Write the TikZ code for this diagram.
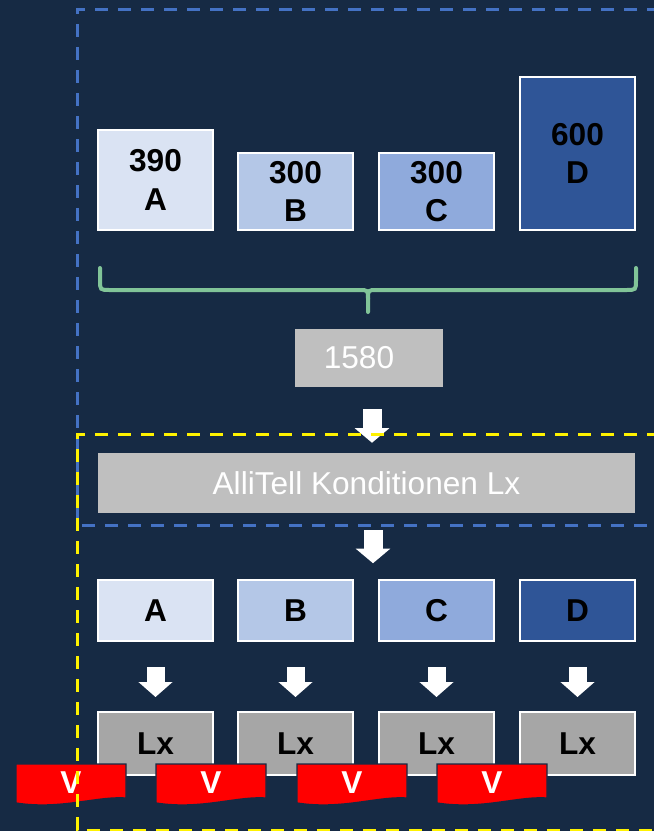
\documentclass[tikz,border=0pt]{standalone}
\usepackage{fontspec}
\setmainfont{Liberation Sans}
\usetikzlibrary{arrows.meta, calc}

\definecolor{navy}{RGB}{22,42,68}
\definecolor{boxA}{RGB}{218,227,243}
\definecolor{boxB}{RGB}{180,199,231}
\definecolor{boxC}{RGB}{143,170,220}
\definecolor{boxD}{RGB}{47,85,151}
\definecolor{sumgrey}{RGB}{191,191,191}
\definecolor{lxgrey}{RGB}{166,166,166}
\definecolor{bracegreen}{RGB}{129,196,152}
\definecolor{dashblue}{RGB}{68,114,196}

\def\px{0.03cm}

\tikzset{
    box/.style={draw=white, line width=0.06cm, inner sep=0pt, align=center,
        minimum width=115*\px, font=\bfseries\fontsize{27}{33}\selectfont},
    greybox/.style={fill=sumgrey, inner sep=0pt, text=white,
        font=\fontsize{27}{33}\selectfont},
    bigarrow/.style={white, line width=0.57cm, -{Triangle[width=1.02cm, length=0.44cm]}},
    smallarrow/.style={white, line width=0.54cm, -{Triangle[width=1.0cm, length=0.45cm]}},
    vlabel/.style={text=white, inner sep=0pt, font=\bfseries\fontsize{27}{33}\selectfont},
    dashline/.style={line width=0.09cm, dash pattern=on 0.39cm off 0.3cm}
}

\begin{document}
\begin{tikzpicture}[x=\px, y=-\px]
    % background
    \fill[navy] (0,0) rectangle (654,831);
    \clip (0,0) rectangle (654,831);

    % top boxes
    \foreach \nm/\x/\h/\co/\val in {
        A/155.5/100/boxA/390,
        B/295.5/77/boxB/300,
        C/436.5/77/boxC/300,
        D/577.5/153/boxD/600}{

        \node[box, fill=\co, minimum height=\h*\px, anchor=south] (t\nm) at (\x,231) {\val\\\nm};
    }

    % brace
    \draw[bracegreen, line width=0.12cm, line cap=round]
        (100,268) -- (100,280) .. controls (100,290) .. (110,290) -- (359,290)
        .. controls (368,290) .. (368,299) -- (368,312);
    \draw[bracegreen, line width=0.12cm, line cap=round]
        (368,299) .. controls (368,290) .. (377,290) -- (626,290)
        .. controls (636,290) .. (636,280) -- (636,268);

    \node[greybox, minimum width=148*\px, minimum height=58*\px] (sum) at (369,358) {1580\hspace*{0.6cm}};
    \node[greybox, minimum width=537*\px, minimum height=60*\px] (allitell) at (366.5,483) {AlliTell Konditionen Lx};

    \draw[bigarrow] ([xshift=3*\px, yshift=-22*\px]sum.south) -- ([xshift=5.5*\px, yshift=10*\px]allitell.north);
    \draw[bigarrow] ([xshift=6.5*\px, yshift=-17*\px]allitell.south) -- ([xshift=6.5*\px, yshift=-50*\px]allitell.south);

    % bottom boxes
    \foreach \nm/\x/\co in {A/155.5/boxA, B/295.5/boxB, C/436.5/boxC, D/577.5/boxD}{
        \node[box, fill=\co, minimum height=61*\px] (b\nm) at (\x,610.5) {\nm};
        \node[box, fill=lxgrey, minimum height=63*\px] (l\nm) at (\x,743.5) {Lx};
        \draw[smallarrow] ([yshift=-25*\px]b\nm.south) -- ([yshift=14*\px]l\nm.north);
    }

    % red flags
    \foreach \nm/\x in {A/16, B/156, C/297, D/437}{
        \filldraw[fill=red, draw=navy, line width=0.04cm]
            (\x,764) -- ({\x+110},764) -- ({\x+110},798)
            .. controls ({\x+80},796) and ({\x+45},810) .. (\x,803) -- cycle;
        \node[vlabel] (v\nm) at ({\x+55},783) {V};
    }

    % dashed frames
    \draw[dashline, dashblue] (660,9) -- (77,9) -- (77,525) -- (660,525);
    \draw[dashline, yellow] (660,434) -- (77,434) -- (77,830) -- (660,830);
\end{tikzpicture}
\end{document}
